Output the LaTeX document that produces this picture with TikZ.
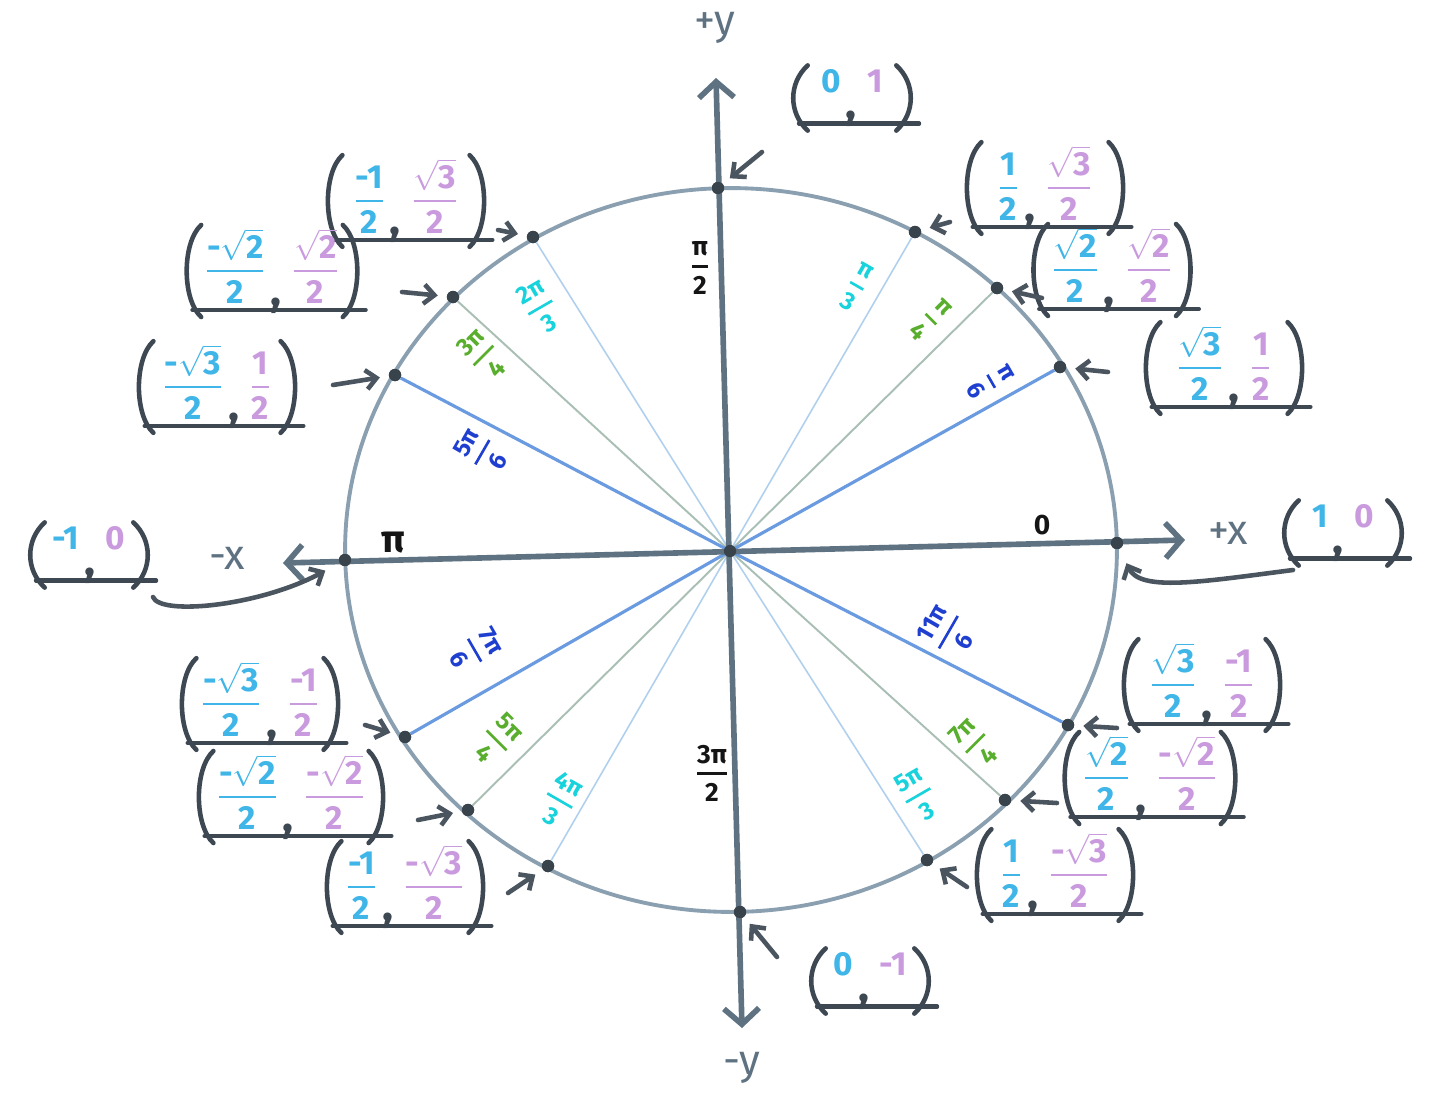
\documentclass[tikz,border=0pt]{standalone}
\usepackage{amsmath}
\usepackage{fontspec}
\setmainfont{Fira Sans}
\usetikzlibrary{arrows.meta,calc}
\definecolor{axc}{HTML}{5F7282}
\definecolor{circc}{HTML}{8AA0B0}
\definecolor{dotc}{HTML}{39434C}
\definecolor{pc}{HTML}{3E4853}
\definecolor{ptrc}{HTML}{4A5560}
\definecolor{xc}{HTML}{3FB5E8}
\definecolor{yc}{HTML}{C99ADE}
\definecolor{sixc}{HTML}{6A9AE0}
\definecolor{sixt}{HTML}{1F3FD0}
\definecolor{quarc}{HTML}{A9BFB5}
\definecolor{quart}{HTML}{5AAE2E}
\definecolor{thirdc}{HTML}{B0D0EE}
\definecolor{thirdt}{HTML}{18D2DC}
\definecolor{blk}{HTML}{151515}
\newcommand{\fr}[2]{\ensuremath{\genfrac{}{}{1.5pt}{0}{\mbox{#1}}{\mbox{#2}}}}
\newcommand{\rt}[1]{\ensuremath{\sqrt{\mbox{#1}}}}
\newcommand{\cpt}[5][]{%
  \node[clab,#1] (#2) at #3 {\textcolor{xc}{#4}\hspace{3pt}\raisebox{-15pt}{\textcolor{pc}{\fontsize{26}{26}\selectfont ,}}\hspace{6pt}\textcolor{yc}{#5}};
  \draw[paren] ([xshift=9pt]#2.north west) .. controls ([xshift=-2pt,yshift=-10pt]#2.north west) and ([xshift=-2pt,yshift=10pt]#2.south west) .. ([xshift=9pt]#2.south west);
  \draw[paren] ([xshift=-9pt]#2.north east) .. controls ([xshift=2pt,yshift=-10pt]#2.north east) and ([xshift=2pt,yshift=10pt]#2.south east) .. ([xshift=-9pt]#2.south east);
  \draw[uline] ([xshift=4pt,yshift=4pt]#2.south west) -- ([xshift=4pt,yshift=4pt]#2.south east);
}
\begin{document}
\begin{tikzpicture}[x=0.02cm,y=-0.02cm,
  dotn/.style={circle, fill=dotc, inner sep=0pt, minimum size=7pt},
  axisln/.style={line width=3.2pt, axc, {Straight Barb[length=9pt,width=20pt]}-{Straight Barb[length=9pt,width=20pt]}},
  circln/.style={line width=2.2pt, circc},
  sixln/.style={line width=1.8pt, sixc},
  quarln/.style={line width=1.1pt, quarc},
  thirdln/.style={line width=0.9pt, thirdc},
  ptr/.style={line width=2.6pt, ptrc, line cap=round, -{Straight Barb[length=6pt,width=11pt]}, shorten >=5pt},
  alab/.style={inner sep=0pt, font=\bfseries\fontsize{14}{16}\selectfont},
  clab/.style={inner xsep=11pt, inner ysep=2pt, minimum width=90pt, minimum height=42pt, font=\bfseries\fontsize{19}{22}\selectfont},
  simple/.style={minimum width=68pt, minimum height=34pt},
  paren/.style={line width=2.6pt, pc, line cap=round},
  uline/.style={line width=2.4pt, pc, line cap=round},
  axlab/.style={axc, font=\fontsize{24}{28}\selectfont}
]
\fill[white] (0,0) rectangle (1437,1109);
\useasboundingbox (0,0) rectangle (1437,1109);

% centre and points
\coordinate (O) at (730,551);
\node[dotn] (P0) at (1117,543) {};
\node[dotn] (P30) at (1060,367) {};
\node[dotn] (P45) at (997,288) {};
\node[dotn] (P60) at (915,232) {};
\node[dotn] (P90) at (718,188) {};
\node[dotn] (P120) at (533,237) {};
\node[dotn] (P135) at (453,297) {};
\node[dotn] (P150) at (395,375) {};
\node[dotn] (P180) at (345,560) {};
\node[dotn] (P210) at (405,737) {};
\node[dotn] (P225) at (468,810) {};
\node[dotn] (P240) at (548,866) {};
\node[dotn] (P270) at (740,912) {};
\node[dotn] (P300) at (927,860) {};
\node[dotn] (P315) at (1005,800) {};
\node[dotn] (P330) at (1068,725) {};

% radial lines
\draw[thirdln] (O) -- (P60);
\draw[thirdln] (O) -- (P120);
\draw[thirdln] (O) -- (P240);
\draw[thirdln] (O) -- (P300);
\draw[quarln] (O) -- (P45);
\draw[quarln] (O) -- (P135);
\draw[quarln] (O) -- (P225);
\draw[quarln] (O) -- (P315);
\draw[sixln] (O) -- (P30);
\draw[sixln] (O) -- (P150);
\draw[sixln] (O) -- (P210);
\draw[sixln] (O) -- (P330);

% circle
\draw[circln] (731,550) ellipse [x radius=7.72cm, y radius=7.24cm];

% axes
\coordinate (xl) at (283,563);
\coordinate (xr) at (1185,540);
\coordinate (yt) at (716,78);
\coordinate (yb) at (742,1028);
\draw[axisln] (xl) -- (xr);
\draw[axisln] (yt) -- (yb);
\node[dotn] at (O) {};
\foreach \p in {P0,P30,P45,P60,P90,P120,P135,P150,P180,P210,P225,P240,P270,P300,P315,P330} {\node[dotn] at (\p) {};}

\node[axlab] (ly1) at (715,28) {+y};
\node[axlab] (ly2) at (742,1068) {-y};
\node[axlab] (lx1) at (1228,533) {+x};
\node[axlab] (lx2) at (227,558) {-x};

% angle labels
\node[alab, text=sixt, rotate=-60] (a30) at (990,382) {\fr{π}{6}};
\node[alab, text=quart, rotate=-45] (a45) at (930,320) {\fr{π}{4}};
\node[alab, text=thirdt, rotate=-30] (a60) at (856,287) {\fr{π}{3}};
\node[alab, text=blk, font=\bfseries\fontsize{15}{17}\selectfont] (a90) at (700,268) {\fr{π}{2}};
\node[alab, text=thirdt, rotate=30] (a120) at (540,307) {\fr{2π}{3}};
\node[alab, text=quart, rotate=45] (a135) at (483,355) {\fr{3π}{4}};
\node[alab, text=sixt, rotate=60] (a150) at (482,452) {\fr{5π}{6}};
\node[alab, text=blk, font=\bfseries\fontsize{22}{24}\selectfont] (a180) at (393,543) {π};
\node[alab, text=sixt, rotate=-60] (a210) at (475,650) {\fr{7π}{6}};
\node[alab, text=quart, rotate=-45] (a225) at (497,740) {\fr{5π}{4}};
\node[alab, text=thirdt, rotate=-30] (a240) at (560,800) {\fr{4π}{3}};
\node[alab, text=blk, font=\bfseries\fontsize{15}{17}\selectfont] (a270) at (712,773) {\fr{3π}{2}};
\node[alab, text=thirdt, rotate=30] (a300) at (918,795) {\fr{5π}{3}};
\node[alab, text=quart, rotate=45] (a315) at (975,743) {\fr{7π}{4}};
\node[alab, text=sixt, rotate=60] (a330) at (948,632) {\fr{11π}{6}};
\node[alab, text=blk, font=\bfseries\fontsize{16}{18}\selectfont] (a0) at (1042,525) {0};

% coordinate labels
\cpt[simple]{L0}{(1343,533)}{1}{0}
\cpt{L30}{(1224,368)}{\fr{\rt{3}}{2}}{\fr{1}{2}}
\cpt{L45}{(1112,270)}{\fr{\rt{2}}{2}}{\fr{\rt{2}}{2}}
\cpt{L60}{(1045,188)}{\fr{1}{2}}{\fr{\rt{3}}{2}}
\cpt[simple]{L90}{(852,98)}{0}{1}
\cpt{L120}{(406,201)}{\fr{-1}{2}}{\fr{\rt{3}}{2}}
\cpt{L135}{(272,271)}{\fr{-\rt{2}}{2}}{\fr{\rt{2}}{2}}
\cpt{L150}{(217,387)}{\fr{-\rt{3}}{2}}{\fr{1}{2}}
\cpt[simple]{L180}{(89,555)}{-1}{0}
\cpt{L210}{(260,704)}{\fr{-\rt{3}}{2}}{\fr{-1}{2}}
\cpt{L225}{(291,797)}{\fr{-\rt{2}}{2}}{\fr{-\rt{2}}{2}}
\cpt{L240}{(405,887)}{\fr{-1}{2}}{\fr{-\rt{3}}{2}}
\cpt[simple]{L270}{(870,981)}{0}{-1}
\cpt{L300}{(1055,875)}{\fr{1}{2}}{\fr{-\rt{3}}{2}}
\cpt{L315}{(1150,778)}{\fr{\rt{2}}{2}}{\fr{-\rt{2}}{2}}
\cpt{L330}{(1202,685)}{\fr{\rt{3}}{2}}{\fr{-1}{2}}

% pointer arrows
\coordinate (t90) at (762,152);
\coordinate (t60) at (950,222);
\coordinate (t45) at (1042,298);
\coordinate (t30) at (1108,372);
\coordinate (t0) at (1293,570);
\coordinate (t330) at (1117,728);
\coordinate (t315) at (1057,803);
\coordinate (t300) at (967,887);
\coordinate (t270) at (777,957);
\coordinate (t240) at (508,893);
\coordinate (t225) at (418,820);
\coordinate (t210) at (365,725);
\coordinate (t180) at (153,597);
\coordinate (t150) at (333,385);
\coordinate (t135) at (402,292);
\coordinate (t120) at (498,230);
\draw[ptr] (t90) -- (P90);
\draw[ptr] (t60) -- (P60);
\draw[ptr] (t45) -- (P45);
\draw[ptr] (t30) -- (P30);
\draw[ptr, shorten >=9pt] (t0) .. controls (1200,582) and (1140,592) .. (P0);
\draw[ptr] (t330) -- (P330);
\draw[ptr] (t315) -- (P315);
\draw[ptr] (t300) -- (P300);
\draw[ptr] (t270) -- (P270);
\draw[ptr] (t240) -- (P240);
\draw[ptr] (t225) -- (P225);
\draw[ptr] (t210) -- (P210);
\draw[ptr, shorten >=9pt] (t180) .. controls (160,616) and (260,606) .. (P180);
\draw[ptr] (t150) -- (P150);
\draw[ptr] (t135) -- (P135);
\draw[ptr] (t120) -- (P120);
\end{tikzpicture}
\end{document}
